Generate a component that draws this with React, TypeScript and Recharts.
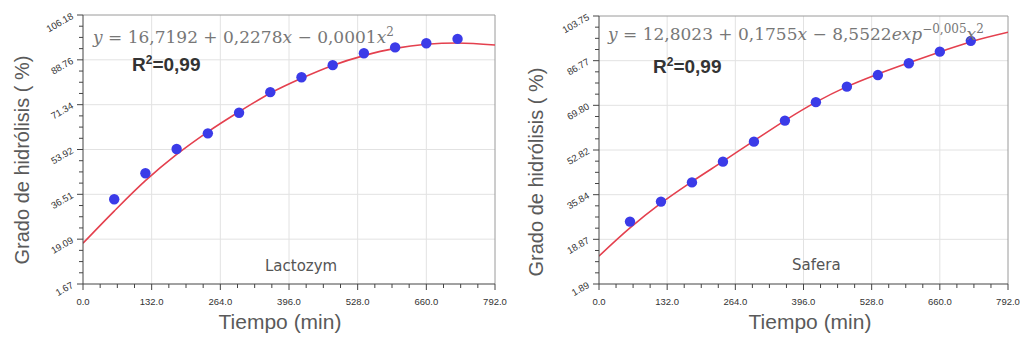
import React from 'react';
import { ComposedChart, Scatter, Line, XAxis, YAxis, ReferenceLine } from 'recharts';

// tiempo de muestreo (min)
const tiempo = [60, 120, 180, 240, 300, 360, 420, 480, 540, 600, 660, 720];
const lactozym = [34.6, 44.7, 54.1, 60.2, 68.2, 76.2, 82.0, 86.7, 91.3, 93.6, 95.2, 96.9];
const safera = [25.6, 33.2, 40.5, 48.4, 56.0, 64.0, 71.0, 76.9, 81.3, 85.8, 90.2, 94.3];

// curva ajustada
const tiempoAjuste = [0, 60, 120, 180, 240, 300, 360, 420, 480, 540, 600, 660, 720, 792];
const lactozymAjuste = [17.5, 30.0, 41.8, 52.0, 60.8, 68.6, 75.8, 81.6, 86.6, 90.4, 93.2, 94.8, 95.3, 94.5];
const saferaAjuste = [12.5, 23.2, 32.6, 40.8, 48.5, 56.3, 64.0, 71.0, 76.9, 81.7, 86.0, 90.1, 94.0, 97.6];

const xMajor = [0, 132, 264, 396, 528, 660, 792];
const yMajorLactozym = [1.67, 19.09, 36.51, 53.92, 71.34, 88.76, 106.18];
const yMajorSafera = [1.89, 18.87, 35.84, 52.82, 69.8, 86.77, 103.75];

const withMinor = (major: number[], parts: number) => {
  const out: number[] = [];
  for (let i = 0; i < major.length - 1; i++) {
    const step = (major[i + 1] - major[i]) / parts;
    for (let k = 0; k < parts; k++) out.push(+(major[i] + k * step).toFixed(4));
  }
  out.push(major[major.length - 1]);
  return out;
};

const isMajor = (v: number, major: number[]) => major.some((m) => Math.abs(m - v) < 1e-3);

const tickFont = '"Liberation Sans", Arial, sans-serif';

const XTick = ({ x, y, payload }: any) => {
  const major = isMajor(payload.value, xMajor);
  return (
    <g>
      <line x1={x} x2={x} y1={y} y2={y + (major ? 6 : 4)} stroke="#444" />
      {major && (
        <text x={x} y={y + 21} textAnchor="middle" fontSize={9.5} fill="#333" fontFamily={tickFont}>
          {payload.value.toFixed(1)}
        </text>
      )}
    </g>
  );
};

const makeYTick = (major: number[]) => ({ x, y, payload }: any) => {
  const isM = isMajor(payload.value, major);
  const tx = x - 9;
  const ty = y + 3;
  return (
    <g>
      <line x1={x} x2={x - (isM ? 6 : 4)} y1={y} y2={y} stroke="#444" />
      {isM && (
        <text
          x={tx}
          y={ty}
          textAnchor="end"
          fontSize={9.5}
          fill="#333"
          fontFamily={tickFont}
          transform={`rotate(-30, ${tx}, ${ty})`}
        >
          {payload.value.toFixed(2)}
        </text>
      )}
    </g>
  );
};

const Dot = (p: any) => <circle cx={p.cx} cy={p.cy} r={5.2} fill="#3b3be8" />;

interface PanelProps {
  values: number[];
  fit: number[];
  yMajor: number[];
  width: number;
  margin: { top: number; right: number; bottom: number; left: number };
  yWidth: number;
}

const Panel = ({ values, fit, yMajor, width, margin, yWidth }: PanelProps) => {
  const points = tiempo.map((t, i) => ({ x: t, y: values[i] }));
  const curve = tiempoAjuste.map((t, i) => ({ x: t, y: fit[i] }));
  const yMin = yMajor[0];
  const yMax = yMajor[yMajor.length - 1];
  return (
    <ComposedChart width={width} height={343} margin={margin}>
      {xMajor.slice(1, -1).map((v) => (
        <ReferenceLine key={'gx' + v} x={v} stroke="#e2e2e2" />
      ))}
      {yMajor.slice(1, -1).map((v) => (
        <ReferenceLine key={'gy' + v} y={v} stroke="#e2e2e2" />
      ))}
      <ReferenceLine x={792} stroke="#9a9a9a" />
      <ReferenceLine y={yMax} stroke="#9a9a9a" />
      <XAxis
        type="number"
        dataKey="x"
        domain={[0, 792]}
        ticks={withMinor(xMajor, 4)}
        interval={0}
        tickSize={0}
        tickMargin={0}
        height={59}
        stroke="#444"
        tick={(p: any) => <XTick {...p} />}
        allowDataOverflow
      />
      <YAxis
        type="number"
        dataKey="y"
        domain={[yMin, yMax]}
        ticks={withMinor(yMajor, 4)}
        interval={0}
        tickSize={0}
        tickMargin={0}
        width={yWidth}
        stroke="#444"
        tick={makeYTick(yMajor)}
        allowDataOverflow
      />
      <Line
        data={curve}
        dataKey="y"
        type="monotone"
        stroke="#e4404e"
        strokeWidth={1.6}
        dot={false}
        activeDot={false}
        isAnimationActive={false}
      />
      <Scatter data={points} dataKey="y" shape={Dot} isAnimationActive={false} />
    </ComposedChart>
  );
};

const abs = (s: React.CSSProperties): React.CSSProperties => ({ position: 'absolute', whiteSpace: 'nowrap', ...s });

const eqStyle: React.CSSProperties = {
  fontFamily: '"DejaVu Serif", "Liberation Serif", serif',
  fontSize: 17,
  color: '#777',
  lineHeight: '20px',
};
const r2Style: React.CSSProperties = {
  fontFamily: '"Liberation Sans", Arial, sans-serif',
  fontWeight: 'bold',
  fontSize: 19,
  color: '#333',
  lineHeight: '22px',
};
const nameStyle: React.CSSProperties = {
  fontFamily: '"DejaVu Sans", sans-serif',
  fontSize: 15,
  color: '#555',
  lineHeight: '18px',
};
const titleStyle: React.CSSProperties = {
  fontFamily: '"Liberation Sans", Arial, sans-serif',
  color: '#5a5a5a',
};

export default function App() {
  return (
    <div style={{ position: 'absolute', left: 0, top: 0, width: 1022, height: 343, background: '#fff', overflow: 'hidden' }}>
      <div style={abs({ left: 0, top: 0 })}>
        <Panel
          values={lactozym}
          fit={lactozymAjuste}
          yMajor={yMajorLactozym}
          width={510}
          margin={{ top: 15, right: 15, bottom: 0, left: 0 }}
          yWidth={83}
        />
      </div>
      <div style={abs({ left: 510, top: 0 })}>
        <Panel
          values={safera}
          fit={saferaAjuste}
          yMajor={yMajorSafera}
          width={512}
          margin={{ top: 16, right: 14, bottom: 0, left: 0 }}
          yWidth={89}
        />
      </div>

      {/* ecuaciones y anotaciones */}
      <div style={abs({ ...eqStyle, left: 93, top: 22 })}>
        <i>y</i> = 16,7192 + 0,2278<i>x</i> − 0,0001<i>x</i>
        <sup style={{ fontSize: 12 }}>2</sup>
      </div>
      <div style={abs({ ...r2Style, left: 132, top: 49 })}>
        R<sup style={{ fontSize: 12 }}>2</sup>=0,99
      </div>
      <div style={abs({ ...nameStyle, left: 265, top: 257 })}>Lactozym</div>

      <div style={abs({ ...eqStyle, left: 608, top: 19 })}>
        <i>y</i> = 12,8023 + 0,1755<i>x</i> − 8,5522<i>exp</i>
        <sup style={{ fontSize: 12 }}>−0,005</sup>
        <i>x</i>
        <sup style={{ fontSize: 12 }}>2</sup>
      </div>
      <div style={abs({ ...r2Style, left: 653, top: 51 })}>
        R<sup style={{ fontSize: 12 }}>2</sup>=0,99
      </div>
      <div style={abs({ ...nameStyle, left: 792, top: 256 })}>Safera</div>

      {/* titulos de ejes */}
      <div style={abs({ ...titleStyle, fontSize: 20, left: 22, top: 160, transform: 'translate(-50%, -50%) rotate(-90deg)' })}>
        Grado de hidrólisis ( %)
      </div>
      <div style={abs({ ...titleStyle, fontSize: 20, left: 536, top: 172, transform: 'translate(-50%, -50%) rotate(-90deg)' })}>
        Grado de hidrólisis ( %)
      </div>
      <div style={abs({ ...titleStyle, fontSize: 21, left: 280, top: 322, transform: 'translate(-50%, -50%)' })}>
        Tiempo (min)
      </div>
      <div style={abs({ ...titleStyle, fontSize: 21, left: 810, top: 322, transform: 'translate(-50%, -50%)' })}>
        Tiempo (min)
      </div>
    </div>
  );
}
